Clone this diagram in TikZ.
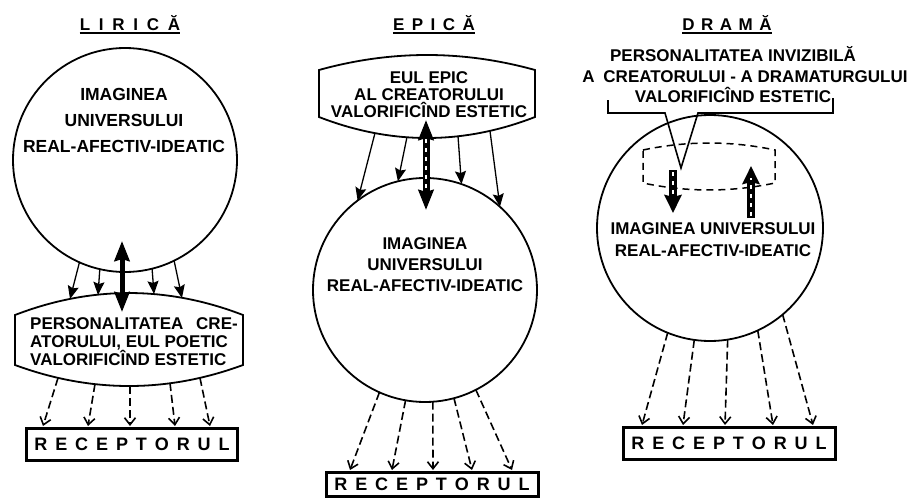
\documentclass[tikz,border=0pt]{standalone}
\usepackage{fontspec}
\setsansfont{Liberation Sans}
\usetikzlibrary{arrows.meta,calc}
\newcommand\rgap{\kern7.9pt}
\tikzset{
  lbl/.style={inner sep=0pt, align=center, font=\sffamily\bfseries\fontsize{17}{17}\selectfont},
  ttl/.style={inner sep=0pt, font=\sffamily\bfseries\fontsize{17}{17}\selectfont},
  circ/.style={circle, draw, line width=1.8pt, minimum size=224pt, inner sep=0pt, outer sep=0pt},
  lensline/.style={line width=1.8pt, line join=miter},
  recbox/.style={draw, line width=3pt, inner sep=0pt, minimum width=211pt, minimum height=32pt,
    font=\sffamily\bfseries\fontsize{18}{18}\selectfont},
  thinarr/.style={line width=1.3pt, -{Stealth[length=13pt,width=11pt,inset=2pt]}},
  dsharr/.style={line width=1.6pt, dash pattern=on 8pt off 4pt, -{Straight Barb[length=7pt,width=11pt]}},
  bigtip/.tip={Stealth[length=20pt,width=15pt,inset=2pt]},
  midtip/.tip={Stealth[length=18pt,width=17pt,inset=2pt]},
  hatch/.style={white, line width=1.3pt, dash pattern=on 4pt off 5pt},
}
\begin{document}
\begin{tikzpicture}[x=1pt,y=-1pt]
\useasboundingbox (0,0) rectangle (913,498);

% ===================== LIRICA =====================
\node[ttl, anchor=base] (t1) at (130,30) {L\kern8.7pt I\kern8.7pt R\kern8.7pt I\kern8.7pt C\kern8.7pt Ă};
\draw[line width=1.6pt] ($(t1.base west)+(0,3)$) -- ($(t1.base east)+(0,3)$);

\node[circ] (c1) at (125,160) {};
\node[lbl, font=\sffamily\bfseries\fontsize{17.5}{26}\selectfont] (c1t) at (124,120)
  {IMAGINEA\\UNIVERSULUI\\REAL-AFECTIV-IDEATIC};

\draw[lensline] (15,315) .. controls (91,285.7) and (167,285.7) .. (243,315)
  -- (243,365) .. controls (167,393) and (91,393) .. (15,365) -- cycle;
\node[lbl, align=left, anchor=west, font=\sffamily\bfseries\fontsize{17}{18}\selectfont] (l1t) at (30,342)
  {PERSONALITATEA\hspace{8pt} CRE-\\ATORULUI, EUL POETIC\\VALORIFICÎND ESTETIC};

\coordinate (l1a) at (70,299);
\coordinate (l1b) at (98,295);
\coordinate (l1c) at (154,294);
\coordinate (l1d) at (182,298);
\draw[thinarr] (c1.246) -- (l1a);
\draw[thinarr] (c1.257) -- (l1b);
\draw[thinarr] (c1.284) -- (l1c);
\draw[thinarr] (c1.296) -- (l1d);

\coordinate (d1u) at (122,241);
\coordinate (d1d) at (122,312);
\draw[line width=5pt, {bigtip}-{bigtip}] (d1u) -- (d1d);

\node[recbox] (r1) at (132,444) {R\rgap E\rgap C\rgap E\rgap P\rgap T\rgap O\rgap R\rgap U\rgap L};
\coordinate (l1s1) at (58,378);
\coordinate (l1s2) at (95,384);
\coordinate (l1s3) at (130,386);
\coordinate (l1s4) at (170,383);
\coordinate (l1s5) at (200,378);
\coordinate (r1e1) at (43,426);
\coordinate (r1e2) at (88,426);
\coordinate (r1e3) at (130,426);
\coordinate (r1e4) at (175,426);
\coordinate (r1e5) at (210,426);
\foreach \i in {1,...,5} \draw[dsharr] (l1s\i) -- (r1e\i);

% ===================== EPICA =====================
\node[ttl, anchor=base] (t2) at (434,30) {E\kern7.5pt P\kern7.5pt I\kern7.5pt C\kern7.5pt Ă};
\draw[line width=1.6pt] ($(t2.base west)+(0,3)$) -- ($(t2.base east)+(0,3)$);

\draw[lensline] (319,70) .. controls (391,50) and (463,50) .. (535,70)
  -- (535,117) .. controls (463,145) and (391,145) .. (319,117) -- cycle;
\node[lbl, font=\sffamily\bfseries\fontsize{17}{17}\selectfont] (e1t) at (429,95)
  {EUL EPIC\\AL CREATORULUI\\VALORIFICÎND ESTETIC};

\node[circ] (c2) at (425,290) {};
\node[lbl, font=\sffamily\bfseries\fontsize{17}{21}\selectfont] (c2t) at (425,265)
  {IMAGINEA\\UNIVERSULUI\\REAL-AFECTIV-IDEATIC};

\coordinate (e1a) at (375,133);
\coordinate (e1b) at (407,137);
\coordinate (e1c) at (458,136);
\coordinate (e1d) at (490,131);
\draw[thinarr] (e1a) -- (c2.127);
\draw[thinarr] (e1b) -- (c2.104);
\draw[thinarr] (e1c) -- (c2.71);
\draw[thinarr] (e1d) -- (c2.48);

\coordinate (d2u) at (426,120);
\coordinate (d2d) at (426,210);
\draw[line width=7pt, {bigtip}-{bigtip}] (d2u) -- (d2d);
\coordinate (h2u) at (426,139);
\coordinate (h2d) at (426,192);
\draw[hatch] (h2u) -- (h2d);

\node[recbox, minimum width=212pt, minimum height=24pt] (r2) at (432,484.5)
  {R\rgap E\rgap C\rgap E\rgap P\rgap T\rgap O\rgap R\rgap U\rgap L};
\coordinate (r2e1) at (350,470);
\coordinate (r2e2) at (392,470);
\coordinate (r2e3) at (433,470);
\coordinate (r2e4) at (472,470);
\coordinate (r2e5) at (512,470);
\draw[dsharr] (c2.246) -- (r2e1);
\draw[dsharr] (c2.260) -- (r2e2);
\draw[dsharr] (c2.274) -- (r2e3);
\draw[dsharr] (c2.285) -- (r2e4);
\draw[dsharr] (c2.297) -- (r2e5);

% ===================== DRAMA =====================
\node[ttl, anchor=base] (t3) at (727,30) {D\kern6.5pt R\kern6.5pt A\kern6.5pt M\kern6.5pt Ă};
\draw[line width=1.6pt] ($(t3.base west)+(0,3)$) -- ($(t3.base east)+(0,3)$);

\node[lbl, font=\sffamily\bfseries\fontsize{17}{20.5}\selectfont] (p3t) at (733,75)
  {PERSONALITATEA INVIZIBILĂ\\\hspace*{24pt}A\hspace{4pt} CREATORULUI - A DRAMATURGULUI\\VALORIFICÎND ESTETIC};
\draw[line width=1.6pt, line join=miter] (608,100) -- (608,113) -- (665,113) -- (681,168)
  -- (698,113) -- (833,113) -- (833,98);

\node[circ, minimum size=226pt] (c3) at (710,228) {};
\draw[line width=1.5pt, dash pattern=on 7pt off 5pt] (643,150) .. controls (687,140.7) and (731,140.7) .. (775,150)
  -- (775,183) .. controls (731,192.3) and (687,192.3) .. (643,183) -- cycle;

\coordinate (d3u) at (673,170);
\coordinate (d3d) at (673,213);
\draw[line width=8pt, -{midtip}] (d3u) -- (d3d);
\coordinate (h3u) at (673,172);
\coordinate (h3d) at (673,194);
\draw[hatch] (h3u) -- (h3d);

\coordinate (u3d) at (751,218);
\coordinate (u3u) at (751,166);
\draw[line width=8pt, -{midtip}] (u3d) -- (u3u);
\coordinate (k3d) at (751,216);
\coordinate (k3u) at (751,178);
\draw[hatch] (k3d) -- (k3u);

\node[lbl] (c3t) at (713,240) [font=\sffamily\bfseries\fontsize{17}{22}\selectfont]
  {IMAGINEA UNIVERSULUI\\REAL-AFECTIV-IDEATIC};

\node[recbox, minimum width=212pt] (r3) at (729,443.5)
  {R\rgap E\rgap C\rgap E\rgap P\rgap T\rgap O\rgap R\rgap U\rgap L};
\coordinate (r3e1) at (642,425);
\coordinate (r3e2) at (683,425);
\coordinate (r3e3) at (725,425);
\coordinate (r3e4) at (773,425);
\coordinate (r3e5) at (813,425);
\draw[dsharr] (c3.248) -- (r3e1);
\draw[dsharr] (c3.262) -- (r3e2);
\draw[dsharr] (c3.279) -- (r3e3);
\draw[dsharr] (c3.295) -- (r3e4);
\draw[dsharr] (c3.310) -- (r3e5);
\end{tikzpicture}
\end{document}
